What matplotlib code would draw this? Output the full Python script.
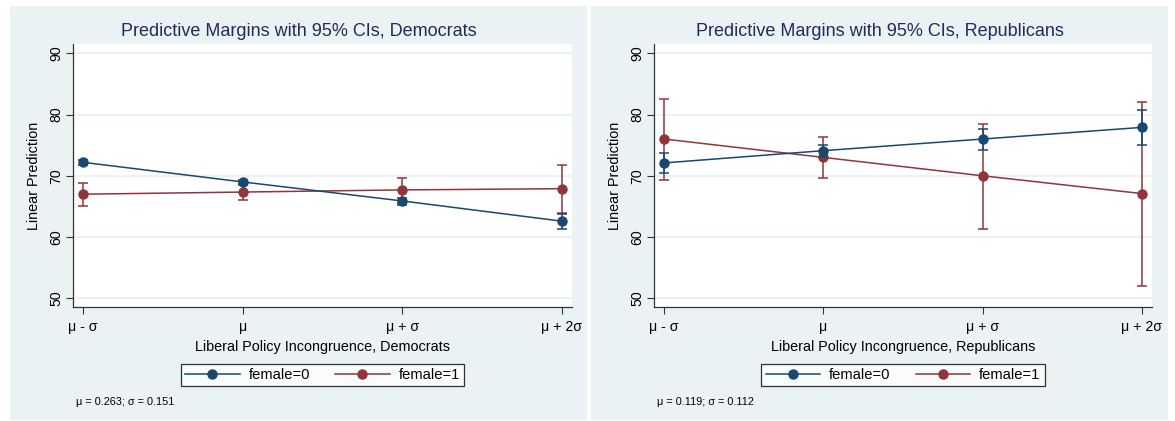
import matplotlib
matplotlib.use("Agg")
import matplotlib.pyplot as plt
from matplotlib.patches import Rectangle
from matplotlib.lines import Line2D

plt.rcParams['font.family'] = ['Liberation Sans', 'DejaVu Sans']

x_labels = ["μ - σ", "μ", "μ + σ", "μ + 2σ"]
x_pos = [0, 1, 2, 3]

# Democrats
dem_f0 = [72.2, 69.0, 65.9, 62.6]
dem_f0_lo = [71.8, 68.6, 65.3, 61.4]
dem_f0_hi = [72.6, 69.3, 66.4, 63.8]
dem_f1 = [67.0, 67.35, 67.7, 67.9]
dem_f1_lo = [65.1, 66.1, 65.6, 64.0]
dem_f1_hi = [68.8, 68.5, 69.7, 71.7]

# Republicans
rep_f0 = [72.1, 74.1, 76.0, 77.9]
rep_f0_lo = [70.4, 73.1, 74.2, 75.0]
rep_f0_hi = [73.8, 75.1, 77.6, 80.7]
rep_f1 = [76.0, 73.0, 70.0, 67.1]
rep_f1_lo = [69.3, 69.6, 61.4, 52.0]
rep_f1_hi = [82.6, 76.3, 78.5, 82.1]

panels = [
    dict(title="Predictive Margins with 95% CIs, Democrats",
         xlabel="Liberal Policy Incongruence, Democrats",
         note="μ = 0.263; σ = 0.151",
         f0=dem_f0, f0lo=dem_f0_lo, f0hi=dem_f0_hi,
         f1=dem_f1, f1lo=dem_f1_lo, f1hi=dem_f1_hi),
    dict(title="Predictive Margins with 95% CIs, Republicans",
         xlabel="Liberal Policy Incongruence, Republicans",
         note="μ = 0.119; σ = 0.112",
         f0=rep_f0, f0lo=rep_f0_lo, f0hi=rep_f0_hi,
         f1=rep_f1, f1lo=rep_f1_lo, f1hi=rep_f1_hi),
]

W, H = 1175, 421
fig = plt.figure(figsize=(W / 100, H / 100), dpi=100)
fig.patch.set_facecolor("white")

BG = "#eaf2f3"
BLUE = "#1a476f"
RED = "#90353b"
TITLE_C = "#1e2d5a"

panel_rects = [(10, 6, 587, 420), (591, 6, 1168, 420)]
axes_px = [(73, 44, 572, 307), (654, 44, 1152, 307)]

for (x0, y0, x1, y1) in panel_rects:
    fig.patches.append(Rectangle((x0 / W, 1 - y1 / H), (x1 - x0) / W, (y1 - y0) / H,
                                 transform=fig.transFigure, facecolor=BG,
                                 edgecolor="none", zorder=-10))

for p, (ax0, ay0, ax1, ay1), (px0, py0, px1, py1) in zip(panels, axes_px, panel_rects):
    ax = fig.add_axes([ax0 / W, 1 - ay1 / H, (ax1 - ax0) / W, (ay1 - ay0) / H])
    ax.set_facecolor("white")
    ax.set_xlim(-0.063, 3.063)
    ax.set_ylim(48.6, 91.5)
    ax.set_yticks([50, 60, 70, 80, 90])
    for yv in [50, 60, 70, 80, 90]:
        ax.axhline(yv, color=BG, lw=1.5, zorder=0)
    for s in ["top", "right"]:
        ax.spines[s].set_visible(False)
    for s in ["left", "bottom"]:
        ax.spines[s].set_color("#333333")
        ax.spines[s].set_linewidth(0.9)
    ax.set_xticks(x_pos)
    ax.set_xticklabels(x_labels, fontsize=10.2)
    ax.tick_params(axis="both", direction="out", length=5, width=0.8, color="#333333")
    ax.tick_params(axis="y", labelsize=10.2, labelrotation=90, pad=2)
    for lab in ax.get_yticklabels():
        lab.set_va("center")
    ax.tick_params(axis="x", pad=4)

    for key, c, zo in [("f1", RED, 3), ("f0", BLUE, 4)]:
        y = p[key]
        lo = p[key + "lo"]
        hi = p[key + "hi"]
        yerr = [[a - b for a, b in zip(y, lo)], [b - a for a, b in zip(y, hi)]]
        ax.errorbar(x_pos, y, yerr=yerr, color=c, lw=1.1, elinewidth=1.1,
                    capsize=3.5, capthick=1.1, marker="o", markersize=6.5,
                    zorder=zo)

    fig.text((px0 + px1) / 2 / W, 1 - 32 / H, p["title"], fontsize=13,
             color=TITLE_C, ha="center", va="center")
    ax.set_ylabel("Linear Prediction", fontsize=10.4, labelpad=6)
    ax.set_xlabel(p["xlabel"], fontsize=10.4, labelpad=5)

    handles = [Line2D([0], [0], color=BLUE, lw=1.1, marker="o", markersize=6.5),
               Line2D([0], [0], color=RED, lw=1.1, marker="o", markersize=6.5)]
    leg = ax.legend(handles, ["female=0", "female=1"], ncol=2, loc="center",
                    bbox_to_anchor=(0.5, (ay1 - 375) / (ay1 - ay0)),
                    frameon=True, fancybox=False, fontsize=10.6, handlelength=3.7,
                    columnspacing=1.7, borderpad=0.3, handletextpad=0.6,
                    borderaxespad=0)
    leg.get_frame().set_edgecolor("black")
    leg.get_frame().set_linewidth(0.9)

    fig.text((ax0 + 3) / W, 1 - 402 / H, p["note"], fontsize=7.8, va="center", ha="left")

fig.savefig("out.png", dpi=100)
